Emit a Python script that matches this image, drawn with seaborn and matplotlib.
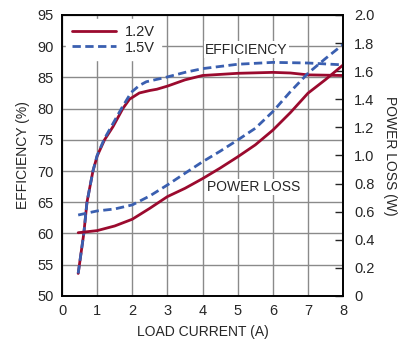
import matplotlib
matplotlib.use('Agg')
import matplotlib.pyplot as plt
import seaborn as sns
import pandas as pd

# eficiencia (eje izquierdo)
x_eff_12 = [0.46, 0.62, 0.71, 0.88, 1.0, 1.21, 1.45, 1.73, 1.92, 2.2, 2.5, 2.7, 3.0, 3.5, 4.0, 5.0, 6.0, 6.5, 7.0, 8.0]
eff_12 = [53.6, 60.0, 65.0, 70.0, 72.4, 75.0, 77.1, 80.0, 81.5, 82.5, 82.9, 83.1, 83.6, 84.6, 85.3, 85.65, 85.8, 85.7, 85.4, 85.3]
x_eff_15 = [0.46, 0.62, 0.71, 0.88, 1.0, 1.2, 1.45, 1.69, 1.97, 2.2, 2.4, 2.95, 3.5, 4.0, 5.0, 6.0, 7.0, 8.0]
eff_15 = [53.6, 60.0, 65.0, 70.0, 72.5, 75.1, 77.6, 80.0, 82.6, 83.7, 84.3, 85.0, 85.8, 86.4, 87.1, 87.4, 87.3, 87.0]

# perdidas (eje derecho)
x_loss = [0.46, 1.0, 1.5, 2.0, 2.5, 3.0, 3.5, 4.0, 4.5, 5.0, 5.5, 6.0, 6.5, 7.0, 7.5, 8.0]
loss_12 = [0.45, 0.465, 0.498, 0.546, 0.624, 0.707, 0.766, 0.835, 0.91, 0.99, 1.075, 1.18, 1.305, 1.443, 1.54, 1.644]
loss_15 = [0.576, 0.605, 0.619, 0.648, 0.712, 0.79, 0.873, 0.955, 1.03, 1.11, 1.193, 1.312, 1.454, 1.585, 1.69, 1.79]

rojo = '#9b0a2e'
azul = '#3a5fb0'

sns.set_style('white')
plt.rcParams['font.family'] = ['Liberation Sans', 'DejaVu Sans']
plt.rcParams['font.size'] = 10.5

fig = plt.figure(figsize=(4.08, 3.39), dpi=100)
ax = fig.add_axes([0.152, 0.127, 0.689, 0.829])
ax2 = ax.twinx()

df_eff = pd.DataFrame({'x': x_eff_12 + x_eff_15, 'y': eff_12 + eff_15,
                       'serie': ['1.2V'] * len(x_eff_12) + ['1.5V'] * len(x_eff_15)})
df_loss = pd.DataFrame({'x': x_loss + x_loss, 'y': loss_12 + loss_15,
                        'serie': ['1.2V'] * len(x_loss) + ['1.5V'] * len(x_loss)})

for a, df in [(ax, df_eff), (ax2, df_loss)]:
    sns.lineplot(data=df, x='x', y='y', hue='serie', style='serie',
                 palette={'1.2V': rojo, '1.5V': azul},
                 dashes={'1.2V': '', '1.5V': (3, 1.6)},
                 linewidth=2, ax=a, legend=(a is ax), sort=False)

ax.set_xlim(0, 8)
ax.set_ylim(50, 95)
ax2.set_ylim(0, 2.0)
ax.set_xticks(range(0, 9))
ax.set_yticks(range(50, 96, 5))
ax2.set_yticks([0, 0.2, 0.4, 0.6, 0.8, 1.0, 1.2, 1.4, 1.6, 1.8, 2.0])
ax2.set_yticklabels(['0', '0.2', '0.4', '0.6', '0.8', '1.0', '1.2', '1.4', '1.6', '1.8', '2.0'])

ax.grid(True, color='#8a8a8a', linewidth=1)
ax.set_axisbelow(True)
for a in (ax, ax2):
    for s in a.spines.values():
        s.set_color('black')
        s.set_linewidth(1.2)
ax.tick_params(axis='both', length=0, pad=6, labelsize=10.5)
ax2.tick_params(axis='y', direction='in', length=6, width=1, pad=8, labelsize=10.5)

ax.set_xlabel('LOAD CURRENT (A)', fontsize=10, labelpad=5)
ax.set_ylabel('EFFICIENCY (%)', fontsize=10, labelpad=5)
ax2.set_ylabel('POWER LOSS (W)', fontsize=10, rotation=270, labelpad=16)

leg = ax.legend(loc='upper left', frameon=True, fontsize=10.5, handlelength=3,
                borderaxespad=0.3, handletextpad=0.6, labelspacing=0.1)
leg.set_title(None)
leg.get_frame().set_edgecolor('white')
leg.get_frame().set_alpha(1)

ax.text(5.25, 89.4, 'EFFICIENCY', ha='center', va='center', fontsize=10,
        bbox=dict(facecolor='white', edgecolor='none', pad=1), zorder=5)
ax2.text(5.45, 0.776, 'POWER LOSS', ha='center', va='center', fontsize=10,
         bbox=dict(facecolor='white', edgecolor='none', pad=1), zorder=5)

fig.savefig('out.png', dpi=100)
